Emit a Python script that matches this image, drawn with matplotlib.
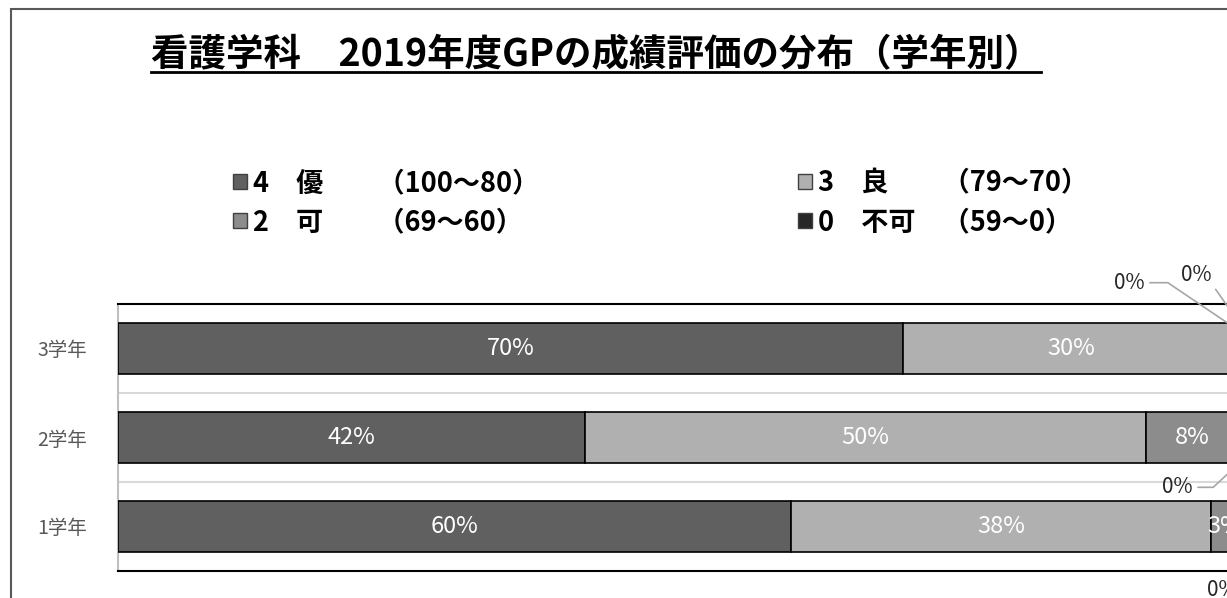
import matplotlib
matplotlib.use('Agg')
import matplotlib.pyplot as plt
from matplotlib.patches import Rectangle, Patch
from matplotlib.lines import Line2D

plt.rcParams['font.family'] = ['Noto Sans CJK JP', 'DejaVu Sans']

# data (percent), rows bottom to top
grades = ['1学年', '2学年', '3学年']
series = ['4　優　　（100～80）', '3　良　　（79～70）', '2　可　　（69～60）', '0　不可　（59～0）']
yu = [60.0, 41.7, 70.0]
ryo = [37.5, 50.0, 30.0]
ka = [2.5, 8.3, 0.0]
fuka = [0.0, 0.0, 0.0]
values = [yu, ryo, ka, fuka]
colors = ['#606060', '#b0b0b0', '#8c8c8c', '#262626']

W, H = 1227, 598
fig = plt.figure(figsize=(W / 100, H / 100), dpi=100)
ax = fig.add_axes([118 / W, 27 / H, 1121 / W, 267 / H])

# chart border (left/top visible, the rest is cut off)
fig.add_artist(Rectangle((11 / W, -0.1), 1.2, (H - 9) / H + 0.1, transform=fig.transFigure,
                         fill=False, edgecolor='#595959', linewidth=1.5))

ys = list(range(len(grades)))
left = [0.0] * len(grades)
for vals, col in zip(values, colors):
    ax.barh(ys, [v / 100 for v in vals], left=left, height=0.58, color=col,
            edgecolor='black', linewidth=1.2, zorder=3)
    for i, v in enumerate(vals):
        if v > 0:
            ax.text(left[i] + v / 200, ys[i], f'{int(v + 0.5)}%', ha='center', va='center',
                    color='white', fontsize=17, zorder=4, clip_on=False)
    left = [l + v / 100 for l, v in zip(left, vals)]

# zero-value labels with leader lines: (row, series) -> (dy in data, text offset px, angleB)
zero_style = {
    (2, 2): (0.20, (-110, 48), 146),
    (2, 3): (0.29, (-43, 48), 125),
    (1, 3): (-0.29, (-62, -24), -137),
    (0, 3): (-0.29, (-17, -38), None),
}
cum = [0.0] * len(grades)
for s, vals in enumerate(values):
    for i, v in enumerate(vals):
        if v == 0 and (i, s) in zero_style:
            dy, off, angB = zero_style[(i, s)]
            conn = 'arc3' if angB is None else f'angle,angleA=0,angleB={angB},rad=0'
            ax.annotate(f'{int(v + 0.5)}%', xy=(cum[i] + v / 100, ys[i] + dy),
                        xytext=off, textcoords='offset pixels', ha='center', va='center',
                        fontsize=15, color='#262626', annotation_clip=False,
                        arrowprops=dict(arrowstyle='-', color='#a6a6a6', lw=1.2,
                                        connectionstyle=conn, shrinkA=2, shrinkB=0))
    cum = [c + v / 100 for c, v in zip(cum, vals)]

ax.set_xlim(0, 1)
ax.set_ylim(-0.5, 2.5)
ax.set_xticks([])
ax.set_yticks(ys)
ax.set_yticklabels(grades, fontsize=14, color='#595959')
ax.tick_params(axis='y', length=0, pad=22)
for y in [0.5, 1.5]:
    ax.axhline(y, color='#d9d9d9', lw=1.5, zorder=1)
ax.spines['right'].set_visible(False)
ax.spines['left'].set_color('#bfbfbf')
ax.spines['left'].set_linewidth(1.5)
for k in ['top', 'bottom']:
    ax.spines[k].set_color('black')
    ax.spines[k].set_linewidth(1.5)

# legend in two columns
handles = [Patch(facecolor=c, edgecolor='#404040', linewidth=1.0) for c in colors]
leg_kw = dict(frameon=False, handlelength=0.5, handleheight=0.5,
              handletextpad=0.25, labelspacing=0.42, borderpad=0, borderaxespad=0,
              prop={'weight': 'bold', 'size': 19.5})
fig.legend([handles[0], handles[2]], [series[0], series[2]], loc='upper left',
           bbox_to_anchor=(233 / W, 1 - 169 / H), **leg_kw)
fig.legend([handles[1], handles[3]], [series[1], series[3]], loc='upper left',
           bbox_to_anchor=(798 / W, 1 - 169 / H), **leg_kw)

title = fig.text(596 / W, 1 - 55 / H, '看護学科　2019年度GPの成績評価の分布（学年別）',
                 ha='center', va='center', fontsize=27, fontweight='bold')
fig.canvas.draw()
bb = title.get_window_extent()
fig.add_artist(Line2D([bb.x0 / W, bb.x1 / W], [(H - 72) / H, (H - 72) / H],
                      transform=fig.transFigure, color='black', lw=2))

fig.savefig('out.png', dpi=100)
